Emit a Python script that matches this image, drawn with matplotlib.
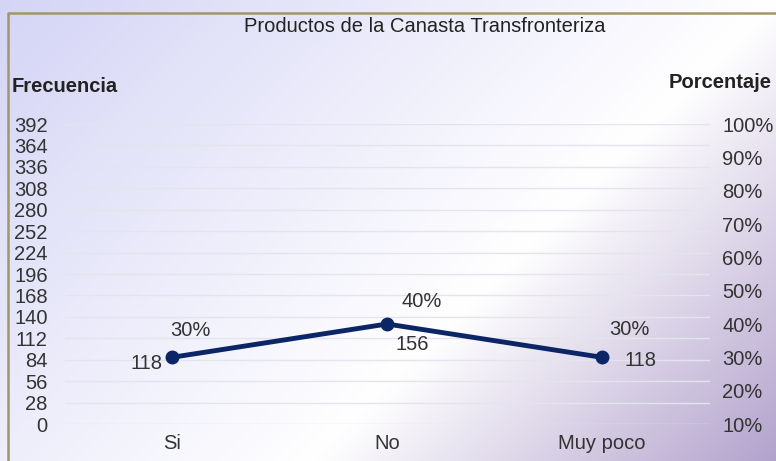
import numpy as np
import matplotlib.pyplot as plt
from matplotlib.ticker import FixedLocator

plt.rcParams['font.family'] = ['Liberation Sans', 'DejaVu Sans']

# Datos
categorias = ['Si', 'No', 'Muy poco']
frecuencia = [118, 156, 118]
porcentaje = [30, 40, 30]
ticks_frec = list(range(0, 393, 28))
ticks_pct = list(range(10, 101, 10))

# Desplazamiento de las etiquetas (en puntos)
off_pct = [(13, 19), (25, 16), (20, 20)]
off_frec = [(-18, -4.5), (18, -15), (28, -2)]

W, H = 776, 461
fs = 14.5
fig = plt.figure(figsize=(W / 100, H / 100), dpi=100)

# Fondo con degradado
bg = fig.add_axes([0, 0, 1, 1])
xx, yy = np.meshgrid(np.linspace(0, 1, W), np.linspace(0, 1, H))
u = xx + 0.6 * yy
lav = np.array([212, 212, 246]) / 255
wht = np.array([255, 255, 255]) / 255
pur = np.array([172, 155, 200]) / 255
img = np.zeros((H, W, 3))
for c in range(3):
    img[:, :, c] = np.interp(u, [0, 1.0, 1.65], [lav[c], wht[c], pur[c]])
bg.imshow(img, aspect='auto', extent=[0, W, H, 0])
bg.set_xlim(0, W)
bg.set_ylim(H, 0)
bg.axis('off')
# marco
bg.plot([8, 8, W], [H, 13, 13], color='#a39666', lw=1.8)

ax = fig.add_axes([64.5 / W, 37 / H, 645 / W, 300 / H])
ax.patch.set_alpha(0)
ax.set_xlim(-0.5, 2.5)
ax.set_ylim(0, 392)
ax.set_yticks(ticks_frec)
ax.set_yticklabels([str(t) for t in ticks_frec], fontsize=fs, color='#333333')
ax.yaxis.set_tick_params(length=0, pad=12)
ax.set_xticks(range(len(categorias)))
ax.set_xticklabels(categorias, fontsize=fs, color='#333333')
ax.xaxis.set_tick_params(length=0, pad=7)
for s in ax.spines.values():
    s.set_visible(False)
ax.grid(axis='y', color='#e4e4ee', lw=1)
ax.set_axisbelow(True)

ax2 = ax.twinx()
ax2.set_ylim(10, 100)
ax2.yaxis.set_major_locator(FixedLocator(ticks_pct))
ax2.set_yticklabels([f'{t}%' for t in ticks_pct], fontsize=fs, color='#333333')
ax2.yaxis.set_tick_params(length=0, pad=9)
for s in ax2.spines.values():
    s.set_visible(False)

x = np.arange(len(categorias))
ax2.plot(x, porcentaje, color='#0b2566', lw=3.5, marker='o', ms=9,
         solid_capstyle='round', zorder=5)

for i in range(len(categorias)):
    ax2.annotate(f'{porcentaje[i]}%', (x[i], porcentaje[i]), xytext=off_pct[i],
                 textcoords='offset points', ha='center', va='center',
                 fontsize=fs, color='#333333')
    ax2.annotate(str(frecuencia[i]), (x[i], porcentaje[i]), xytext=off_frec[i],
                 textcoords='offset points', ha='center', va='center',
                 fontsize=fs, color='#333333')

fig.text(425 / W, 1 - 27 / H, 'Productos de la Canasta Transfronteriza',
         ha='center', va='center', fontsize=fs, color='#222222')
fig.text(12 / W, 1 - 86 / H, 'Frecuencia', ha='left', va='center',
         fontsize=fs, fontweight='bold', color='#222222')
fig.text(772 / W, 1 - 82 / H, 'Porcentaje', ha='right', va='center',
         fontsize=fs, fontweight='bold', color='#222222')

fig.savefig('out.png', dpi=100)
